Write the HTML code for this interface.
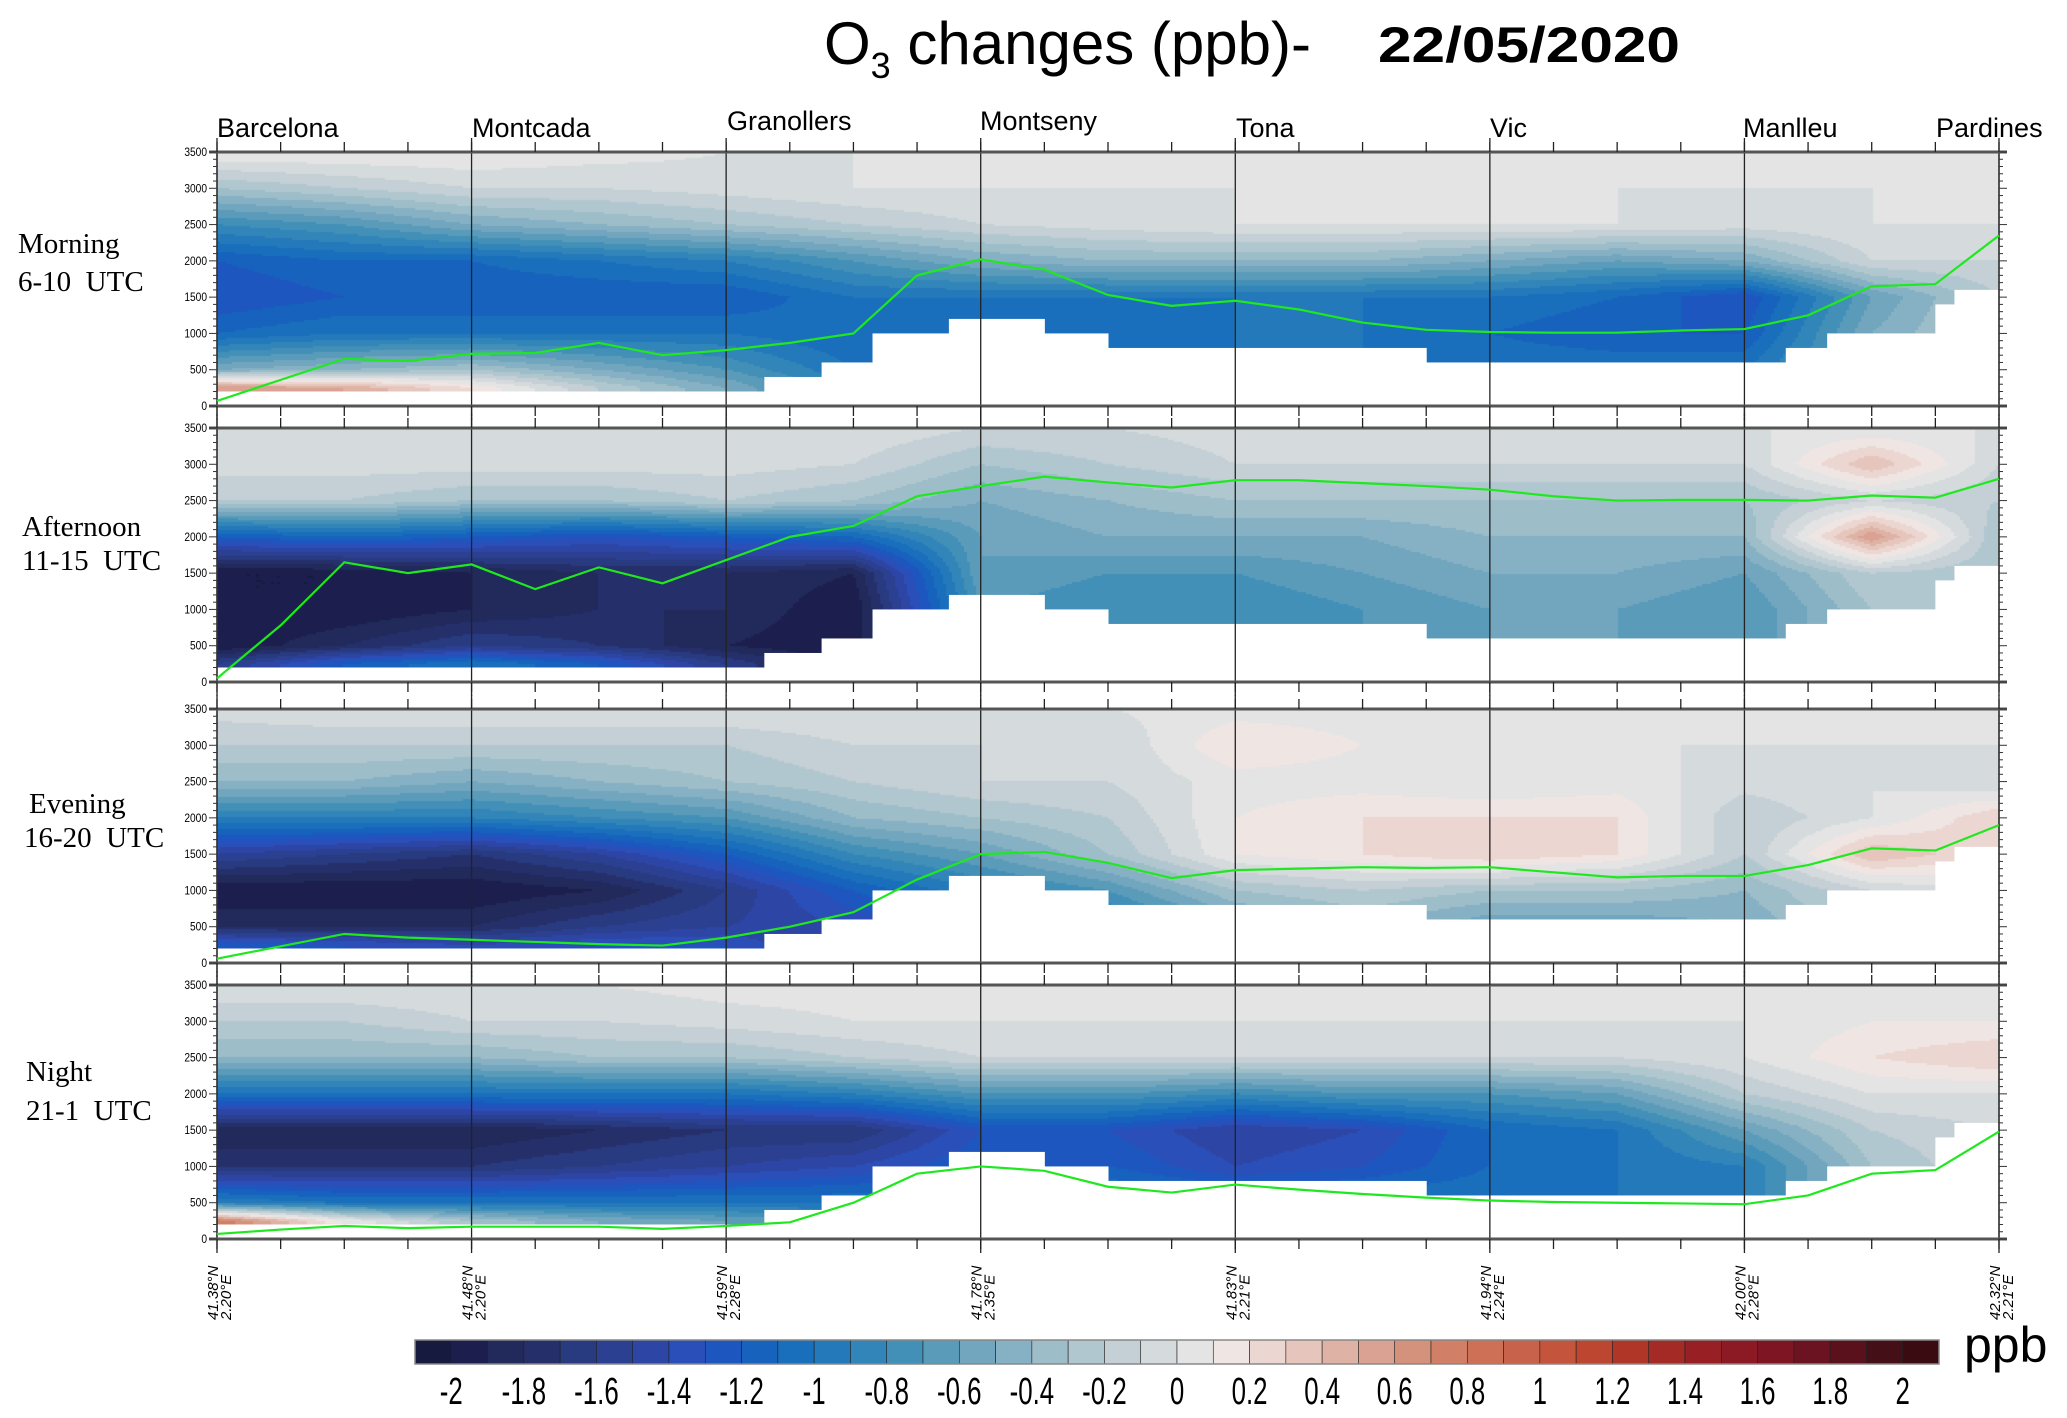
<!DOCTYPE html>
<html><head><meta charset="utf-8">
<style>
html,body{margin:0;padding:0;background:#fff;}
#wrap{position:relative;width:2067px;height:1418px;overflow:hidden;background:#fff;}
canvas{position:absolute;}
svg{position:absolute;left:0;top:0;}
</style></head>
<body>
<div id="wrap">
<canvas id="c0"></canvas>
<canvas id="c1"></canvas>
<canvas id="c2"></canvas>
<canvas id="c3"></canvas>
<svg id="svg" width="2067" height="1418" xmlns="http://www.w3.org/2000/svg">
<g font-family="Liberation Sans, sans-serif" fill="#000">
<text x="824" y="64" font-size="60">O<tspan font-size="36" dy="14">3</tspan><tspan dy="-14"> changes (ppb)- </tspan></text>
<text x="1378" y="62" font-size="50" font-weight="bold" textLength="302" lengthAdjust="spacingAndGlyphs">22/05/2020</text>
</g>
<g font-family="Liberation Sans, sans-serif" font-size="27" fill="#000">
<text x="217" y="137">Barcelona</text>
<text x="472" y="137">Montcada</text>
<text x="727" y="130">Granollers</text>
<text x="980" y="130">Montseny</text>
<text x="1236" y="137">Tona</text>
<text x="1490" y="137">Vic</text>
<text x="1743" y="137">Manlleu</text>
<text x="1936" y="137">Pardines</text>
</g>
<g font-family="Liberation Serif, serif" font-size="29" fill="#000">
<text x="18" y="253">Morning</text>
<text x="18" y="291">6-10 &#160;UTC</text>
<text x="22" y="536">Afternoon</text>
<text x="22" y="570">11-15 &#160;UTC</text>
<text x="29" y="813">Evening</text>
<text x="24" y="847">16-20 &#160;UTC</text>
<text x="26" y="1081">Night</text>
<text x="26" y="1120">21-1 &#160;UTC</text>
</g>
<g id="panels"></g>
<g id="coords" font-family="Liberation Sans, sans-serif" font-size="15" font-style="italic" fill="#000"></g>
<g id="cbar"></g>
<text x="1964" y="1362" font-family="Liberation Sans, sans-serif" font-size="50" fill="#000">ppb</text>
</svg>
</div>
<script>
// ---- data ----
const heights = [3500,3000,2500,2000,1500,1000,500,250];
const columnsX = [0,2,4,6,8,10,12,14,16,18,20,22,24,26,28];
const panelNames = ['morning','afternoon','evening','night'];
const morningField = [
[0.1,0.1,0.1,0.05,0,0,0,0,0,0,0,0,0,0,0],
[-0.3,-0.2,-0.1,-0.1,-0.05,0,0,0,0,0,0,0,0,0,0],
[-0.8,-0.7,-0.5,-0.4,-0.3,-0.2,-0.1,-0.05,0,0,0,0,-0.05,0,0],
[-1.2,-1.1,-1.1,-1.0,-0.9,-0.7,-0.5,-0.4,-0.4,-0.4,-0.5,-0.6,-0.5,-0.1,-0.1],
[-1.3,-1.2,-1.2,-1.2,-1.2,-1.0,-1.0,-1.0,-1.0,-1.0,-1.0,-1.1,-1.3,-0.6,-0.2],
[-1.1,-1.0,-1.0,-1.0,-1.0,-1.1,-1.1,-1.1,-1.0,-1.0,-1.1,-1.2,-1.2,-0.5,-0.2],
[-0.5,-0.4,-0.3,-0.5,-0.7,-1.0,-1.1,-1.1,-1.0,-1.0,-1.0,-1.0,-1.0,-0.5,-0.2],
[0.6,0.5,0.2,-0.2,-0.5,-0.9,-1.1,-1.1,-1.0,-1.0,-1.0,-1.0,-1.0,-0.5,-0.2]];
const afternoonField = [
[0,0,0,0,0,0,-0.1,-0.1,-0.05,0,0,0,0,0,0],
[-0.05,-0.05,-0.05,-0.05,-0.05,-0.1,-0.3,-0.2,-0.1,-0.1,-0.1,-0.1,-0.1,0.4,-0.1],
[-0.2,-0.2,-0.3,-0.3,-0.2,-0.3,-0.5,-0.4,-0.3,-0.3,-0.3,-0.3,-0.3,-0.1,-0.2],
[-1.2,-1.1,-1.2,-1.3,-1.2,-1.1,-0.6,-0.5,-0.5,-0.5,-0.4,-0.4,-0.4,0.6,-0.3],
[-2,-2,-1.9,-1.8,-1.8,-1.9,-0.6,-0.7,-0.7,-0.6,-0.5,-0.5,-0.6,-0.2,-0.3],
[-2,-2,-1.9,-1.8,-1.8,-2,-0.7,-0.8,-0.8,-0.7,-0.6,-0.6,-0.7,-0.3,-0.3],
[-2,-1.8,-1.6,-1.7,-1.9,-2,-0.7,-0.8,-0.8,-0.7,-0.6,-0.6,-0.7,-0.3,-0.3],
[-1.6,-1.2,-1.0,-1.2,-1.6,-2,-0.7,-0.8,-0.8,-0.7,-0.6,-0.6,-0.7,-0.3,-0.3]];
const eveningField = [
[-0.05,0,0,0,0,0,0,0,0.05,0.05,0,0,0,0,0],
[-0.2,-0.2,-0.2,-0.2,-0.2,-0.1,-0.1,-0.1,0.2,0.1,0,0,0,0,0],
[-0.4,-0.4,-0.5,-0.4,-0.3,-0.2,-0.1,-0.1,0.05,0.05,0,0.05,-0.05,0,-0.1],
[-0.9,-0.9,-0.9,-0.8,-0.7,-0.4,-0.3,-0.2,0.1,0.2,0.2,0.2,-0.2,0,0.3],
[-1.5,-1.6,-1.7,-1.5,-1.2,-0.8,-0.6,-0.3,0.1,0.2,0.3,0.2,-0.2,0.4,0.2],
[-2,-2,-2,-1.9,-1.6,-1.2,-0.9,-0.7,-0.3,-0.2,-0.3,-0.3,-0.4,-0.1,0],
[-1.8,-1.8,-1.8,-1.6,-1.5,-1.4,-1.2,-1,-0.6,-0.4,-0.6,-0.6,-0.5,-0.2,0],
[-1.2,-1.3,-1.4,-1.3,-1.3,-1.6,-1.2,-1,-0.6,-0.4,-0.6,-0.6,-0.5,-0.2,0]];
const nightField = [
[0,0,0,0,0.05,0.05,0.05,0.05,0.05,0.05,0.05,0.05,0.05,0.05,0.05],
[-0.2,-0.2,-0.1,-0.1,-0.05,0,0,0,0,0,0,0,0,0.1,0.1],
[-0.4,-0.4,-0.4,-0.3,-0.3,-0.2,-0.1,-0.1,-0.1,-0.1,-0.1,-0.1,0,0.2,0.3],
[-1.0,-1.0,-1.0,-1.0,-1.0,-0.9,-0.7,-0.7,-0.8,-0.7,-0.7,-0.6,-0.2,0,0],
[-1.9,-1.9,-1.9,-1.8,-1.7,-1.7,-1.3,-1.3,-1.5,-1.4,-1.1,-1.0,-0.6,-0.2,-0.1],
[-1.7,-1.7,-1.7,-1.6,-1.5,-1.4,-1.2,-1.2,-1.4,-1.3,-1.1,-1.0,-0.9,-0.3,-0.1],
[-0.9,-1.0,-1.0,-1.0,-1.0,-1.0,-0.9,-0.9,-1.0,-1.0,-1.0,-1.0,-0.9,-0.3,-0.1],
[0.8,0.1,-0.3,-0.5,-0.6,-0.7,-0.9,-0.9,-1.0,-1.0,-1.0,-1.0,-0.9,-0.3,-0.1]];
const morningPBL = [70,360,650,620,720,730,870,700,770,870,1000,1800,2020,1880,1530,1380,1450,1330,1150,1050,1020,1010,1010,1040,1060,1250,1650,1680,2350];
const afternoonPBL = [50,780,1650,1500,1620,1280,1580,1360,1680,2000,2150,2560,2700,2830,2750,2680,2780,2780,2740,2700,2650,2560,2500,2510,2510,2500,2570,2540,2800];
const eveningPBL = [60,230,400,350,320,290,260,240,350,500,700,1150,1500,1530,1380,1170,1280,1300,1320,1310,1320,1250,1180,1200,1200,1350,1580,1550,1900];
const nightPBL = [70,130,180,150,170,170,170,140,180,230,500,900,1000,940,720,640,750,680,620,570,530,510,500,490,480,600,900,950,1480];
const terrainStart = [0,8.6,9.5,10.3,11.5,13,14,19,24.65,25.3,27,27.3];
const terrainEnd = [8.6,9.5,10.3,11.5,13,14,19,24.65,25.3,27,27.3,28];
const terrainHeight = [200,400,600,1000,1200,1000,800,600,800,1000,1400,1600];
const yTicks = [0,500,1000,1500,2000,2500,3000,3500];
const coordLabels = [['41.38°N','2.20°E'],['41.48°N','2.20°E'],['41.59°N','2.28°E'],['41.78°N','2.35°E'],['41.83°N','2.21°E'],['41.94°N','2.24°E'],['42.00°N','2.28°E'],['42.32°N','2.21°E']];
const cbarLabels = ['-2','-1.8','-1.6','-1.4','-1.2','-1','-0.8','-0.6','-0.4','-0.2','0','0.2','0.4','0.6','0.8','1','1.2','1.4','1.6','1.8','2'];
const palette = ['#161a3e','#1c1f4d','#212a5a','#252f6a','#283a80','#2b4090','#2d46a6','#2b4fb8','#1e56c0','#1762bd','#1a6fbd','#2479bb','#3185b9','#4290b8','#5a9bba','#71a6be','#86b1c4','#9dbdc9','#b1c7cf','#c4d0d5','#d5dadd','#e4e4e4','#efe5e3','#ecd6d1','#e6c6bc','#deb3a5','#d9a292','#d4917b','#d17f66','#cd7055','#c9624a','#c4553c','#bc4630','#b03628','#a42a25','#982024','#8c1a24','#7d1622','#6b1320','#5a111c','#450f17','#3a0c12'];
// ---- layout ----
const L=217, R=1999, UNITS=28, PH=254;
const panelTops=[152,428,709,985];
const fields=[morningField,afternoonField,eveningField,nightField];
const pbls=[morningPBL,afternoonPBL,eveningPBL,nightPBL];
const xs=u=>L+u*(R-L)/UNITS;
const ys=(top,m)=>top+PH-m/3500*PH;
function val(F,u,m){
  m=Math.max(250,Math.min(3500,m));
  let ci=Math.min(13,Math.floor(u/2)); let tx=(u-columnsX[ci])/2;
  let r=0; while(r<heights.length-2 && m<heights[r+1]) r++;
  let ty=(heights[r]-m)/(heights[r]-heights[r+1]);
  const a=F[r][ci],b=F[r][ci+1],c=F[r+1][ci],d=F[r+1][ci+1];
  return a*(1-tx)*(1-ty)+b*tx*(1-ty)+c*(1-tx)*ty+d*tx*ty;
}
function col(v){let i; if(v<-2)i=0; else if(v>=2)i=41; else i=1+Math.floor((v+2)/0.1+1e-9); return palette[Math.max(0,Math.min(41,i))];}
const NS='http://www.w3.org/2000/svg';
function mk(tag,attrs,parent){const e=document.createElementNS(NS,tag);for(const k in attrs)e.setAttribute(k,attrs[k]);parent.appendChild(e);return e;}
const panelsG=document.getElementById('panels');
for(let p=0;p<4;p++){
  const top=panelTops[p];
  const cv=document.getElementById('c'+p);
  cv.width=R-L; cv.height=PH; cv.style.left=L+'px'; cv.style.top=top+'px';
  const ctx=cv.getContext('2d');
  const bw=3,bh=2;
  for(let px=0;px<cv.width;px+=bw){
    const u=(px+bw/2)/(R-L)*UNITS;
    for(let py=0;py<PH;py+=bh){
      const m=(PH-(py+bh/2))/PH*3500;
      ctx.fillStyle=col(val(fields[p],u,m));
      ctx.fillRect(px,py,bw,bh);
    }
  }
  const g=mk('g',{},panelsG);
  
  
  for(let i=0;i<terrainStart.length;i++){
    const r=mk('rect',{x:xs(terrainStart[i]),y:ys(top,terrainHeight[i]),width:xs(terrainEnd[i])-xs(terrainStart[i])+0.5,height:ys(top,0)-ys(top,terrainHeight[i]),fill:'#fff'},g);
    
    
  }
  for(let s=0;s<=7;s++){
    const ln=mk('line',{x1:xs(s*4),x2:xs(s*4),y1:top-14,y2:top+PH+14,stroke:'#222','stroke-width':1.3},g);
    
    
  }
  const fr=mk('rect',{x:L,y:top,width:R-L,height:PH,fill:'none',stroke:'#333','stroke-width':1.5},g);
  
  
  mk('line',{x1:L-8,x2:R+8,y1:top,y2:top,stroke:'#555','stroke-width':3},g);
  mk('line',{x1:L-8,x2:R+8,y1:top+PH,y2:top+PH,stroke:'#555','stroke-width':3},g);
  for(let u=0;u<=UNITS;u++){
    mk('line',{x1:xs(u),x2:xs(u),y1:top-10,y2:top,stroke:'#222','stroke-width':1.3},g);
    mk('line',{x1:xs(u),x2:xs(u),y1:top+PH,y2:top+PH+10,stroke:'#222','stroke-width':1.3},g);
  }
  const ya=mk('g',{},g);
  
  
  for(let m=0;m<=3500;m+=100){
    const major=m%500===0;
    mk('line',{x1:L-(major?8:4),x2:L,y1:ys(top,m),y2:ys(top,m),stroke:'#333','stroke-width':1},ya);
    mk('line',{x1:R,x2:R+(major?8:4),y1:ys(top,m),y2:ys(top,m),stroke:'#333','stroke-width':1},ya);
  }
  yTicks.forEach(t=>{
    const tx=mk('text',{x:L-10,y:ys(top,t)+4,'text-anchor':'end','font-family':'Liberation Sans, sans-serif','font-size':12,fill:'#000',transform:`translate(${L-10},0) scale(0.85,1) translate(${-(L-10)},0)`},ya);
    tx.textContent=t;
    
    
  });
  const pts=pbls[p].map((h,i)=>xs(i)+','+ys(top,h)).join(' ');
  const pl=mk('polyline',{points:pts,fill:'none',stroke:'#1fe81f','stroke-width':2.2},g);
  
  
}
const cg=document.getElementById('coords');
coordLabels.forEach((c,i)=>{
  const x=xs(i*4);
  const t=mk('text',{transform:`translate(${x+1},1320) rotate(-90)`},cg);
  
  
  mk('tspan',{x:0,y:0},t).textContent=c[0];
  mk('tspan',{x:0,y:13},t).textContent=c[1];
});
const cb=document.getElementById('cbar');
const cbL=415,cbR=1939,cbT=1340,cbH=24,bwid=(cbR-cbL)/palette.length;
palette.forEach((c,i)=>{
  const r=mk('rect',{x:cbL+i*bwid,y:cbT,width:bwid,height:cbH,fill:c,stroke:'#222','stroke-width':0.6},cb);
  
  
});
mk('rect',{x:cbL,y:cbT,width:cbR-cbL,height:cbH,fill:'none',stroke:'#888','stroke-width':1.5},cb);
cbarLabels.forEach((s,i)=>{
  const x=cbL+(1+2*i)*bwid;
  const t=mk('text',{x:0,y:0,'text-anchor':'middle','font-family':'Liberation Sans, sans-serif','font-size':38,fill:'#000',transform:`translate(${x},1404) scale(0.68,1)`},cb);
  t.textContent=s;
  
  
});
</script>
</body></html>
